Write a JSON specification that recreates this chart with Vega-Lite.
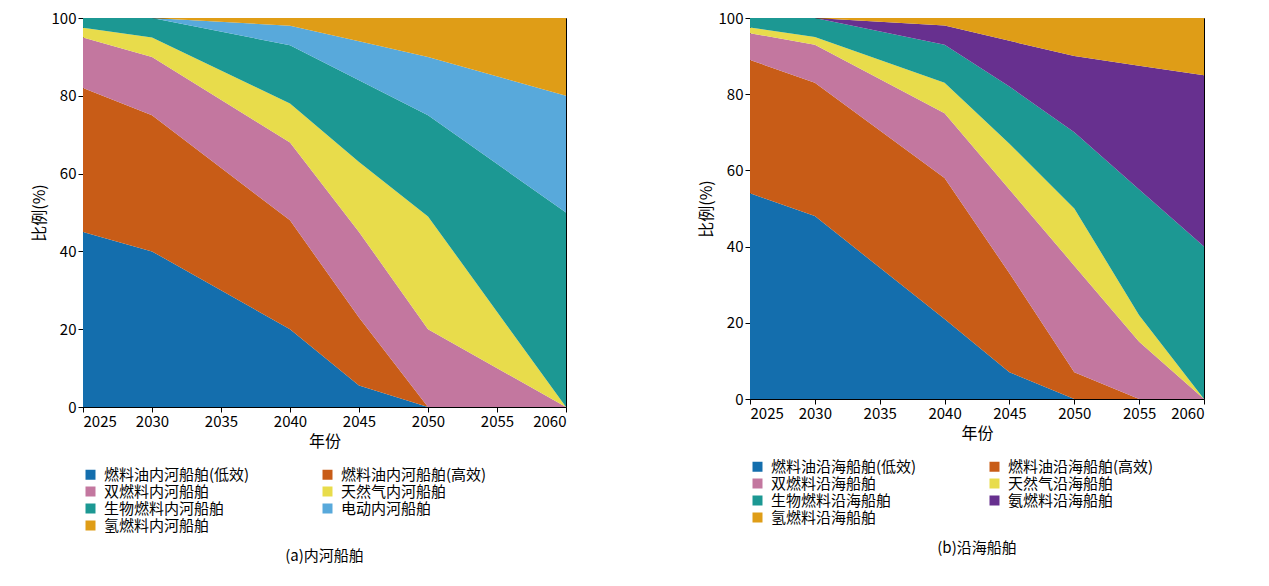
{
"$schema":"https://vega.github.io/schema/vega-lite/v6.json",
"background":"white",
"padding":{"left":30,"top":10,"right":10,"bottom":5},
"config":{"font":"Noto Sans CJK SC","view":{"stroke":"black"},"axis":{"grid":false,"labelFontSize":15,"titleFontSize":16,"titleFontWeight":"normal","labelColor":"black","titleColor":"black","domainColor":"black","tickColor":"black"},"legend":{"labelFontSize":15,"symbolType":"square","symbolSize":100,"columns":2,"columnPadding":70,"orient":"bottom","title":null,"labelLimit":300,"rowPadding":1,"labelOffset":6},"title":{"fontSize":15,"fontWeight":"normal","orient":"bottom","offset":15}},
"datasets":{
"a":[
{"y":2025,"s":"燃料油内河船舶(低效)","v":45},{"y":2030,"s":"燃料油内河船舶(低效)","v":40},{"y":2040,"s":"燃料油内河船舶(低效)","v":20},{"y":2045,"s":"燃料油内河船舶(低效)","v":5.5},{"y":2050,"s":"燃料油内河船舶(低效)","v":0},{"y":2060,"s":"燃料油内河船舶(低效)","v":0},
{"y":2025,"s":"燃料油内河船舶(高效)","v":37},{"y":2030,"s":"燃料油内河船舶(高效)","v":35},{"y":2040,"s":"燃料油内河船舶(高效)","v":28},{"y":2045,"s":"燃料油内河船舶(高效)","v":17.5},{"y":2050,"s":"燃料油内河船舶(高效)","v":0},{"y":2060,"s":"燃料油内河船舶(高效)","v":0},
{"y":2025,"s":"双燃料内河船舶","v":13},{"y":2030,"s":"双燃料内河船舶","v":15},{"y":2040,"s":"双燃料内河船舶","v":20},{"y":2045,"s":"双燃料内河船舶","v":22},{"y":2050,"s":"双燃料内河船舶","v":20},{"y":2060,"s":"双燃料内河船舶","v":0},
{"y":2025,"s":"天然气内河船舶","v":2.5},{"y":2030,"s":"天然气内河船舶","v":5},{"y":2040,"s":"天然气内河船舶","v":10},{"y":2045,"s":"天然气内河船舶","v":18},{"y":2050,"s":"天然气内河船舶","v":29},{"y":2060,"s":"天然气内河船舶","v":0},
{"y":2025,"s":"生物燃料内河船舶","v":2.5},{"y":2030,"s":"生物燃料内河船舶","v":5},{"y":2040,"s":"生物燃料内河船舶","v":15},{"y":2045,"s":"生物燃料内河船舶","v":21},{"y":2050,"s":"生物燃料内河船舶","v":26},{"y":2060,"s":"生物燃料内河船舶","v":50},
{"y":2025,"s":"电动内河船舶","v":0},{"y":2030,"s":"电动内河船舶","v":0},{"y":2040,"s":"电动内河船舶","v":5},{"y":2045,"s":"电动内河船舶","v":10},{"y":2050,"s":"电动内河船舶","v":15},{"y":2060,"s":"电动内河船舶","v":30},
{"y":2025,"s":"氢燃料内河船舶","v":0},{"y":2030,"s":"氢燃料内河船舶","v":0},{"y":2040,"s":"氢燃料内河船舶","v":2},{"y":2045,"s":"氢燃料内河船舶","v":6},{"y":2050,"s":"氢燃料内河船舶","v":10},{"y":2060,"s":"氢燃料内河船舶","v":20}],
"b":[
{"y":2025,"s":"燃料油沿海船舶(低效)","v":54},{"y":2030,"s":"燃料油沿海船舶(低效)","v":48},{"y":2040,"s":"燃料油沿海船舶(低效)","v":21},{"y":2045,"s":"燃料油沿海船舶(低效)","v":7},{"y":2050,"s":"燃料油沿海船舶(低效)","v":0},{"y":2055,"s":"燃料油沿海船舶(低效)","v":0},{"y":2060,"s":"燃料油沿海船舶(低效)","v":0},
{"y":2025,"s":"燃料油沿海船舶(高效)","v":35},{"y":2030,"s":"燃料油沿海船舶(高效)","v":35},{"y":2040,"s":"燃料油沿海船舶(高效)","v":37},{"y":2045,"s":"燃料油沿海船舶(高效)","v":26},{"y":2050,"s":"燃料油沿海船舶(高效)","v":7},{"y":2055,"s":"燃料油沿海船舶(高效)","v":0},{"y":2060,"s":"燃料油沿海船舶(高效)","v":0},
{"y":2025,"s":"双燃料沿海船舶","v":7},{"y":2030,"s":"双燃料沿海船舶","v":10},{"y":2040,"s":"双燃料沿海船舶","v":17},{"y":2045,"s":"双燃料沿海船舶","v":22},{"y":2050,"s":"双燃料沿海船舶","v":28},{"y":2055,"s":"双燃料沿海船舶","v":15},{"y":2060,"s":"双燃料沿海船舶","v":0},
{"y":2025,"s":"天然气沿海船舶","v":1.5},{"y":2030,"s":"天然气沿海船舶","v":2},{"y":2040,"s":"天然气沿海船舶","v":8},{"y":2045,"s":"天然气沿海船舶","v":12},{"y":2050,"s":"天然气沿海船舶","v":15},{"y":2055,"s":"天然气沿海船舶","v":7},{"y":2060,"s":"天然气沿海船舶","v":0},
{"y":2025,"s":"生物燃料沿海船舶","v":2.5},{"y":2030,"s":"生物燃料沿海船舶","v":5},{"y":2040,"s":"生物燃料沿海船舶","v":10},{"y":2045,"s":"生物燃料沿海船舶","v":15},{"y":2050,"s":"生物燃料沿海船舶","v":20},{"y":2055,"s":"生物燃料沿海船舶","v":33},{"y":2060,"s":"生物燃料沿海船舶","v":40},
{"y":2025,"s":"氨燃料沿海船舶","v":0},{"y":2030,"s":"氨燃料沿海船舶","v":0},{"y":2040,"s":"氨燃料沿海船舶","v":5},{"y":2045,"s":"氨燃料沿海船舶","v":12},{"y":2050,"s":"氨燃料沿海船舶","v":20},{"y":2055,"s":"氨燃料沿海船舶","v":32.5},{"y":2060,"s":"氨燃料沿海船舶","v":45},
{"y":2025,"s":"氢燃料沿海船舶","v":0},{"y":2030,"s":"氢燃料沿海船舶","v":0},{"y":2040,"s":"氢燃料沿海船舶","v":2},{"y":2045,"s":"氢燃料沿海船舶","v":6},{"y":2050,"s":"氢燃料沿海船舶","v":10},{"y":2055,"s":"氢燃料沿海船舶","v":12.5},{"y":2060,"s":"氢燃料沿海船舶","v":15}]
},
"hconcat":[
{"title":"(a)内河船舶","width":483,"height":389,"data":{"name":"a"},
"transform":[{"calculate":"indexof(['燃料油内河船舶(低效)','燃料油内河船舶(高效)','双燃料内河船舶','天然气内河船舶','生物燃料内河船舶','电动内河船舶','氢燃料内河船舶'], datum.s)","as":"o"}],
"mark":{"type":"area","interpolate":"linear"},
"encoding":{
"x":{"field":"y","type":"quantitative","title":"年份","scale":{"domain":[2025,2060],"nice":false},"axis":{"format":"d","values":[2025,2030,2035,2040,2045,2050,2055,2060]}},
"y":{"field":"v","type":"quantitative","stack":"zero","title":"比例(%)","scale":{"domain":[0,100]},"axis":{"values":[0,20,40,60,80,100]}},
"order":{"field":"o","type":"quantitative","sort":"ascending"},
"color":{"field":"s","type":"nominal","sort":["燃料油内河船舶(低效)","燃料油内河船舶(高效)","双燃料内河船舶","天然气内河船舶","生物燃料内河船舶","电动内河船舶","氢燃料内河船舶"],
"scale":{"domain":["燃料油内河船舶(低效)","燃料油内河船舶(高效)","双燃料内河船舶","天然气内河船舶","生物燃料内河船舶","电动内河船舶","氢燃料内河船舶"],"range":["#146ead","#c85c17","#c3779f","#e8dc4b","#1c9893","#58a9db","#df9d17"]}}}},
{"title":"(b)沿海船舶","width":454,"height":381,"data":{"name":"b"},
"transform":[{"calculate":"indexof(['燃料油沿海船舶(低效)','燃料油沿海船舶(高效)','双燃料沿海船舶','天然气沿海船舶','生物燃料沿海船舶','氨燃料沿海船舶','氢燃料沿海船舶'], datum.s)","as":"o"}],
"mark":{"type":"area","interpolate":"linear"},
"encoding":{
"x":{"field":"y","type":"quantitative","title":"年份","scale":{"domain":[2025,2060],"nice":false},"axis":{"format":"d","values":[2025,2030,2035,2040,2045,2050,2055,2060]}},
"y":{"field":"v","type":"quantitative","stack":"zero","title":"比例(%)","scale":{"domain":[0,100]},"axis":{"values":[0,20,40,60,80,100]}},
"order":{"field":"o","type":"quantitative","sort":"ascending"},
"color":{"field":"s","type":"nominal","sort":["燃料油沿海船舶(低效)","燃料油沿海船舶(高效)","双燃料沿海船舶","天然气沿海船舶","生物燃料沿海船舶","氨燃料沿海船舶","氢燃料沿海船舶"],
"scale":{"domain":["燃料油沿海船舶(低效)","燃料油沿海船舶(高效)","双燃料沿海船舶","天然气沿海船舶","生物燃料沿海船舶","氨燃料沿海船舶","氢燃料沿海船舶"],"range":["#146ead","#c85c17","#c3779f","#e8dc4b","#1c9893","#67308f","#df9d17"]}}}}
],
"resolve":{"scale":{"color":"independent"}},
"spacing":130
}
